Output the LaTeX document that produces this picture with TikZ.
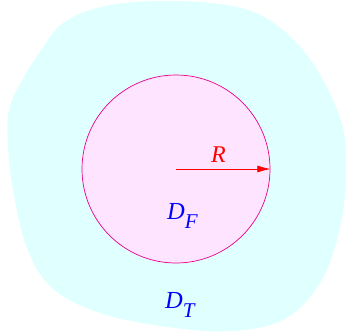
\documentclass[tikz,border=0pt]{standalone}
\usepackage{fontspec}
\setmainfont{Liberation Serif}
\usepackage{tikz}
\usetikzlibrary{positioning, arrows.meta}
\definecolor{regioncyan}{RGB}{224,255,255}
\definecolor{diskpink}{RGB}{255,228,255}
\newcommand{\domsub}[2]{\textit{#1}\raisebox{-9pt}{\fontsize{21}{24}\selectfont\textit{#2}}}
\tikzset{
  % --- regions ---
  outerregion/.style={fill=regioncyan, draw=none},
  innerdisk/.style={draw=magenta, fill=diskpink, circle, line width=0.7pt,
    minimum size=188pt, inner sep=0pt},
  % --- labels ---
  domlabel/.style={text=blue, font=\fontsize{24.5}{28}\selectfont, inner sep=0pt,
    anchor=base west},
  radlabel/.style={text=red, font=\fontsize{24}{27}\selectfont\itshape, inner sep=0pt,
    anchor=base west},
  radius/.style={draw=red, line width=0.7pt, -{Latex[length=13pt, width=7pt]}},
}

\begin{document}
\begin{tikzpicture}[x=1pt, y=-1pt]
    \useasboundingbox (0,0) rectangle (346,335);
    % outer domain
    \fill[outerregion] plot[smooth cycle, tension=0.6] coordinates {
      (63,23) (40,52) (22,80) (9,110) (8,145) (13,190) (27,248) (52,288)
      (100,313) (167,327) (233,331) (285,319) (318,286) (335,247) (345,195)
      (345,140) (333,100) (307,55) (272,22) (232,6) (167,1) (105,6)};
    % inner disk
    \node[innerdisk] (disk) at (176,169) {};
    \draw[radius] (disk.center) -- (disk.east);
    \node[radlabel] (rlab) at (211,162) {R};
    \node[domlabel] (dF) at (167,219) {\domsub{D}{F}};
    \node[domlabel] (dT) at (165,308) {\domsub{D}{T}};
\end{tikzpicture}
\end{document}
